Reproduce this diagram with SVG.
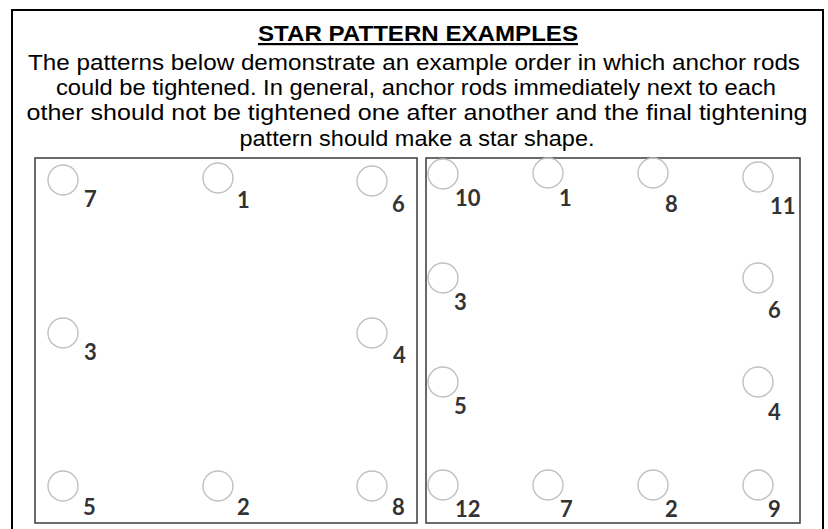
<svg xmlns="http://www.w3.org/2000/svg" width="828" height="529" viewBox="0 0 828 529">
<style>
.body{font-family:"Liberation Sans",Arial,sans-serif;font-size:22px;fill:#000;text-anchor:middle}
.title{font-family:"Liberation Sans",Arial,sans-serif;font-size:22px;font-weight:bold;fill:#000;text-anchor:middle;text-decoration:underline}
.panel{fill:#fff;stroke:#3a3a3a;stroke-width:1.5}
.rod{fill:none;stroke:#c0c0c0;stroke-width:1.4}
.lbl{font-family:Lato,"Open Sans",sans-serif;font-size:22px;font-weight:bold;fill:#333}
</style>
<rect width="828" height="529" fill="#fff"/>
<path d="M12,540 V10 H823 V540" fill="none" stroke="#000" stroke-width="2"/>
<g id="header">
<text class="title" x="418" y="41" textLength="320" lengthAdjust="spacingAndGlyphs">STAR PATTERN EXAMPLES</text>
<text class="body" x="414" y="70" textLength="772" lengthAdjust="spacingAndGlyphs">The patterns below demonstrate an example order in which anchor rods</text>
<text class="body" x="416" y="95" textLength="720" lengthAdjust="spacingAndGlyphs">could be tightened. In general, anchor rods immediately next to each</text>
<text class="body" x="417" y="120" textLength="781" lengthAdjust="spacingAndGlyphs">other should not be tightened one after another and the final tightening</text>
<text class="body" x="417" y="146" textLength="355" lengthAdjust="spacingAndGlyphs">pattern should make a star shape.</text>
</g>
<g id="panel-8">
<rect class="panel" x="35" y="158" width="382" height="365"/>
<g id="rod-7"><circle class="rod" cx="63" cy="180" r="15"/><text class="lbl" x="84" y="207">7</text></g>
<g id="rod-1"><circle class="rod" cx="218" cy="178" r="15"/><text class="lbl" x="237" y="208">1</text></g>
<g id="rod-6"><circle class="rod" cx="372" cy="181" r="15"/><text class="lbl" x="392" y="212">6</text></g>
<g id="rod-3"><circle class="rod" cx="63" cy="333" r="15"/><text class="lbl" x="84" y="360">3</text></g>
<g id="rod-4"><circle class="rod" cx="372" cy="333" r="15"/><text class="lbl" x="393" y="363">4</text></g>
<g id="rod-5"><circle class="rod" cx="63" cy="486" r="15"/><text class="lbl" x="83" y="515">5</text></g>
<g id="rod-2"><circle class="rod" cx="218" cy="486" r="15"/><text class="lbl" x="237" y="515">2</text></g>
<g id="rod-8"><circle class="rod" cx="372" cy="486" r="15"/><text class="lbl" x="392" y="515">8</text></g>
</g>
<g id="panel-12">
<rect class="panel" x="426" y="158" width="374" height="365"/>
<g id="rod-r10"><circle class="rod" cx="443" cy="174" r="15"/><text class="lbl" x="455" y="206">10</text></g>
<g id="rod-r1"><circle class="rod" cx="548" cy="173" r="15"/><text class="lbl" x="559" y="206">1</text></g>
<g id="rod-r8"><circle class="rod" cx="653" cy="173" r="15"/><text class="lbl" x="665" y="212">8</text></g>
<g id="rod-r11"><circle class="rod" cx="758" cy="177" r="15"/><text class="lbl" x="770" y="214">11</text></g>
<g id="rod-r3"><circle class="rod" cx="443" cy="278" r="15"/><text class="lbl" x="454" y="310">3</text></g>
<g id="rod-r6"><circle class="rod" cx="758" cy="278" r="15"/><text class="lbl" x="768" y="318">6</text></g>
<g id="rod-r5"><circle class="rod" cx="443" cy="382" r="15"/><text class="lbl" x="454" y="414">5</text></g>
<g id="rod-r4"><circle class="rod" cx="758" cy="382" r="15"/><text class="lbl" x="768" y="420">4</text></g>
<g id="rod-r12"><circle class="rod" cx="443" cy="485" r="15"/><text class="lbl" x="455" y="517">12</text></g>
<g id="rod-r7"><circle class="rod" cx="548" cy="485" r="15"/><text class="lbl" x="560" y="517">7</text></g>
<g id="rod-r2"><circle class="rod" cx="653" cy="485" r="15"/><text class="lbl" x="665" y="517">2</text></g>
<g id="rod-r9"><circle class="rod" cx="758" cy="485" r="15"/><text class="lbl" x="768" y="517">9</text></g>
</g>
</svg>
